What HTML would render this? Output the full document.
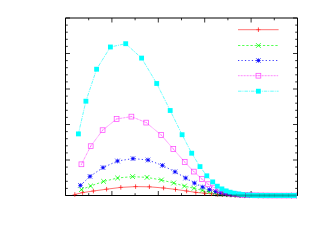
<!DOCTYPE html>
<html><head><meta charset="utf-8"><title>plot</title>
<style>html,body{margin:0;padding:0;background:#fff;font-family:"Liberation Sans",sans-serif;}svg{display:block}</style>
</head><body>
<svg width="325" height="245" viewBox="0 0 325 245">
<rect width="325" height="245" fill="#fff"/>
<g stroke="#000" stroke-width="1" fill="none">
<path d="M65.5 18.0H297.5V195.5H65.5Z"/>
<path d="M65.50 195.5v-4.5M65.50 18.0v4.5M88.70 195.5v-2.3M88.70 18.0v2.3M111.90 195.5v-4.5M111.90 18.0v4.5M135.10 195.5v-2.3M135.10 18.0v2.3M158.30 195.5v-4.5M158.30 18.0v4.5M181.50 195.5v-2.3M181.50 18.0v2.3M204.70 195.5v-4.5M204.70 18.0v4.5M227.90 195.5v-2.3M227.90 18.0v2.3M251.10 195.5v-4.5M251.10 18.0v4.5M274.30 195.5v-2.3M274.30 18.0v2.3M297.50 195.5v-4.5M297.50 18.0v4.5M65.5 195.50h4.5M297.5 195.50h-4.5M65.5 188.40h2.3M297.5 188.40h-2.3M65.5 181.30h2.3M297.5 181.30h-2.3M65.5 174.20h2.3M297.5 174.20h-2.3M65.5 167.10h2.3M297.5 167.10h-2.3M65.5 160.00h4.5M297.5 160.00h-4.5M65.5 152.90h2.3M297.5 152.90h-2.3M65.5 145.80h2.3M297.5 145.80h-2.3M65.5 138.70h2.3M297.5 138.70h-2.3M65.5 131.60h2.3M297.5 131.60h-2.3M65.5 124.50h4.5M297.5 124.50h-4.5M65.5 117.40h2.3M297.5 117.40h-2.3M65.5 110.30h2.3M297.5 110.30h-2.3M65.5 103.20h2.3M297.5 103.20h-2.3M65.5 96.10h2.3M297.5 96.10h-2.3M65.5 89.00h4.5M297.5 89.00h-4.5M65.5 81.90h2.3M297.5 81.90h-2.3M65.5 74.80h2.3M297.5 74.80h-2.3M65.5 67.70h2.3M297.5 67.70h-2.3M65.5 60.60h2.3M297.5 60.60h-2.3M65.5 53.50h4.5M297.5 53.50h-4.5M65.5 46.40h2.3M297.5 46.40h-2.3M65.5 39.30h2.3M297.5 39.30h-2.3M65.5 32.20h2.3M297.5 32.20h-2.3M65.5 25.10h2.3M297.5 25.10h-2.3M65.5 18.00h4.5M297.5 18.00h-4.5" stroke-width="0.8"/>
</g>
<path d="M74.80 194.50L82.60 192.60L93.40 191.00L106.60 189.20L120.80 187.40L135.60 186.60L149.40 186.80L163.60 188.00L175.50 189.40L186.60 191.00L195.80 192.40L204.70 193.20L211.50 193.80L217.50 194.30L222.50 194.60L227.00 194.90L231.00 195.10L235.85 195.26L240.71 195.37L245.56 195.43L250.42 195.47L255.27 195.50L260.12 195.52L264.98 195.53L269.83 195.54L274.68 195.54L279.54 195.54L284.39 195.55L289.25 195.55L294.10 195.55" stroke="#ff0000" stroke-width="0.9" stroke-opacity="0.62" fill="none"/>
<path d="M238 29.7H278.6" stroke="#ff0000" stroke-width="0.9" stroke-opacity="0.62" fill="none"/>
<path d="M256.20 29.70H260.60" stroke="#ff0000" stroke-width="0.6" stroke-opacity="0.7" fill="none"/><path d="M258.40 27.45V31.95" stroke="#ff0000" stroke-width="0.8" stroke-opacity="0.9" fill="none"/>
<path d="M72.60 194.50H77.00" stroke="#ff0000" stroke-width="0.6" stroke-opacity="0.7" fill="none"/><path d="M74.80 192.25V196.75" stroke="#ff0000" stroke-width="0.8" stroke-opacity="0.9" fill="none"/>
<path d="M80.40 192.60H84.80" stroke="#ff0000" stroke-width="0.6" stroke-opacity="0.7" fill="none"/><path d="M82.60 190.35V194.85" stroke="#ff0000" stroke-width="0.8" stroke-opacity="0.9" fill="none"/>
<path d="M91.20 191.00H95.60" stroke="#ff0000" stroke-width="0.6" stroke-opacity="0.7" fill="none"/><path d="M93.40 188.75V193.25" stroke="#ff0000" stroke-width="0.8" stroke-opacity="0.9" fill="none"/>
<path d="M104.40 189.20H108.80" stroke="#ff0000" stroke-width="0.6" stroke-opacity="0.7" fill="none"/><path d="M106.60 186.95V191.45" stroke="#ff0000" stroke-width="0.8" stroke-opacity="0.9" fill="none"/>
<path d="M118.60 187.40H123.00" stroke="#ff0000" stroke-width="0.6" stroke-opacity="0.7" fill="none"/><path d="M120.80 185.15V189.65" stroke="#ff0000" stroke-width="0.8" stroke-opacity="0.9" fill="none"/>
<path d="M133.40 186.60H137.80" stroke="#ff0000" stroke-width="0.6" stroke-opacity="0.7" fill="none"/><path d="M135.60 184.35V188.85" stroke="#ff0000" stroke-width="0.8" stroke-opacity="0.9" fill="none"/>
<path d="M147.20 186.80H151.60" stroke="#ff0000" stroke-width="0.6" stroke-opacity="0.7" fill="none"/><path d="M149.40 184.55V189.05" stroke="#ff0000" stroke-width="0.8" stroke-opacity="0.9" fill="none"/>
<path d="M161.40 188.00H165.80" stroke="#ff0000" stroke-width="0.6" stroke-opacity="0.7" fill="none"/><path d="M163.60 185.75V190.25" stroke="#ff0000" stroke-width="0.8" stroke-opacity="0.9" fill="none"/>
<path d="M173.30 189.40H177.70" stroke="#ff0000" stroke-width="0.6" stroke-opacity="0.7" fill="none"/><path d="M175.50 187.15V191.65" stroke="#ff0000" stroke-width="0.8" stroke-opacity="0.9" fill="none"/>
<path d="M184.40 191.00H188.80" stroke="#ff0000" stroke-width="0.6" stroke-opacity="0.7" fill="none"/><path d="M186.60 188.75V193.25" stroke="#ff0000" stroke-width="0.8" stroke-opacity="0.9" fill="none"/>
<path d="M193.60 192.40H198.00" stroke="#ff0000" stroke-width="0.6" stroke-opacity="0.7" fill="none"/><path d="M195.80 190.15V194.65" stroke="#ff0000" stroke-width="0.8" stroke-opacity="0.9" fill="none"/>
<path d="M202.50 193.20H206.90" stroke="#ff0000" stroke-width="0.6" stroke-opacity="0.7" fill="none"/><path d="M204.70 190.95V195.45" stroke="#ff0000" stroke-width="0.8" stroke-opacity="0.9" fill="none"/>
<path d="M209.30 193.80H213.70" stroke="#ff0000" stroke-width="0.6" stroke-opacity="0.7" fill="none"/><path d="M211.50 191.55V196.05" stroke="#ff0000" stroke-width="0.8" stroke-opacity="0.9" fill="none"/>
<path d="M215.30 194.30H219.70" stroke="#ff0000" stroke-width="0.6" stroke-opacity="0.7" fill="none"/><path d="M217.50 192.05V196.55" stroke="#ff0000" stroke-width="0.8" stroke-opacity="0.9" fill="none"/>
<path d="M220.30 194.60H224.70" stroke="#ff0000" stroke-width="0.6" stroke-opacity="0.7" fill="none"/><path d="M222.50 192.35V196.85" stroke="#ff0000" stroke-width="0.8" stroke-opacity="0.9" fill="none"/>
<path d="M224.80 194.90H229.20" stroke="#ff0000" stroke-width="0.6" stroke-opacity="0.7" fill="none"/><path d="M227.00 192.65V197.15" stroke="#ff0000" stroke-width="0.8" stroke-opacity="0.9" fill="none"/>
<path d="M228.80 195.10H233.20" stroke="#ff0000" stroke-width="0.6" stroke-opacity="0.7" fill="none"/><path d="M231.00 192.85V197.35" stroke="#ff0000" stroke-width="0.8" stroke-opacity="0.9" fill="none"/>
<path d="M233.65 195.26H238.05" stroke="#ff0000" stroke-width="0.6" stroke-opacity="0.7" fill="none"/><path d="M235.85 193.01V197.51" stroke="#ff0000" stroke-width="0.8" stroke-opacity="0.9" fill="none"/>
<path d="M238.51 195.37H242.91" stroke="#ff0000" stroke-width="0.6" stroke-opacity="0.7" fill="none"/><path d="M240.71 193.12V197.62" stroke="#ff0000" stroke-width="0.8" stroke-opacity="0.9" fill="none"/>
<path d="M243.36 195.43H247.76" stroke="#ff0000" stroke-width="0.6" stroke-opacity="0.7" fill="none"/><path d="M245.56 193.18V197.68" stroke="#ff0000" stroke-width="0.8" stroke-opacity="0.9" fill="none"/>
<path d="M248.22 195.47H252.62" stroke="#ff0000" stroke-width="0.6" stroke-opacity="0.7" fill="none"/><path d="M250.42 193.22V197.72" stroke="#ff0000" stroke-width="0.8" stroke-opacity="0.9" fill="none"/>
<path d="M253.07 195.50H257.47" stroke="#ff0000" stroke-width="0.6" stroke-opacity="0.7" fill="none"/><path d="M255.27 193.25V197.75" stroke="#ff0000" stroke-width="0.8" stroke-opacity="0.9" fill="none"/>
<path d="M257.92 195.52H262.32" stroke="#ff0000" stroke-width="0.6" stroke-opacity="0.7" fill="none"/><path d="M260.12 193.27V197.77" stroke="#ff0000" stroke-width="0.8" stroke-opacity="0.9" fill="none"/>
<path d="M262.78 195.53H267.18" stroke="#ff0000" stroke-width="0.6" stroke-opacity="0.7" fill="none"/><path d="M264.98 193.28V197.78" stroke="#ff0000" stroke-width="0.8" stroke-opacity="0.9" fill="none"/>
<path d="M267.63 195.54H272.03" stroke="#ff0000" stroke-width="0.6" stroke-opacity="0.7" fill="none"/><path d="M269.83 193.29V197.79" stroke="#ff0000" stroke-width="0.8" stroke-opacity="0.9" fill="none"/>
<path d="M272.48 195.54H276.88" stroke="#ff0000" stroke-width="0.6" stroke-opacity="0.7" fill="none"/><path d="M274.68 193.29V197.79" stroke="#ff0000" stroke-width="0.8" stroke-opacity="0.9" fill="none"/>
<path d="M277.34 195.54H281.74" stroke="#ff0000" stroke-width="0.6" stroke-opacity="0.7" fill="none"/><path d="M279.54 193.29V197.79" stroke="#ff0000" stroke-width="0.8" stroke-opacity="0.9" fill="none"/>
<path d="M282.19 195.55H286.59" stroke="#ff0000" stroke-width="0.6" stroke-opacity="0.7" fill="none"/><path d="M284.39 193.30V197.80" stroke="#ff0000" stroke-width="0.8" stroke-opacity="0.9" fill="none"/>
<path d="M287.05 195.55H291.45" stroke="#ff0000" stroke-width="0.6" stroke-opacity="0.7" fill="none"/><path d="M289.25 193.30V197.80" stroke="#ff0000" stroke-width="0.8" stroke-opacity="0.9" fill="none"/>
<path d="M291.90 195.55H296.30" stroke="#ff0000" stroke-width="0.6" stroke-opacity="0.7" fill="none"/><path d="M294.10 193.30V197.80" stroke="#ff0000" stroke-width="0.8" stroke-opacity="0.9" fill="none"/>
<path d="M81.40 189.60L90.60 186.00L103.60 181.40L117.60 178.00L132.60 176.60L147.00 177.40L161.40 180.00L173.70 183.00L184.50 186.10L194.00 188.30L202.20 190.40L209.00 191.80L215.00 192.80L220.00 193.60L224.50 194.10L228.50 194.50L232.50 194.80L237.24 195.05L241.98 195.21L246.72 195.32L251.45 195.40L256.19 195.45L260.93 195.48L265.67 195.50L270.41 195.52L275.15 195.53L279.88 195.54L284.62 195.54L289.36 195.54L294.10 195.55" stroke="#00ff00" stroke-width="0.85" stroke-opacity="0.8" fill="none" stroke-dasharray="2.3 1.85"/>
<path d="M238 45.5H278.6" stroke="#00ff00" stroke-width="0.85" stroke-opacity="0.8" fill="none" stroke-dasharray="2.3 1.85"/>
<path d="M256.00 43.10L260.80 47.90M256.00 47.90L260.80 43.10" stroke="#00ff00" stroke-width="0.75" fill="none"/><rect x="257.70" y="44.80" width="1.4" height="1.4" fill="#00ff00" opacity="0.6"/>
<path d="M79.00 187.20L83.80 192.00M79.00 192.00L83.80 187.20" stroke="#00ff00" stroke-width="0.75" fill="none"/><rect x="80.70" y="188.90" width="1.4" height="1.4" fill="#00ff00" opacity="0.6"/>
<path d="M88.20 183.60L93.00 188.40M88.20 188.40L93.00 183.60" stroke="#00ff00" stroke-width="0.75" fill="none"/><rect x="89.90" y="185.30" width="1.4" height="1.4" fill="#00ff00" opacity="0.6"/>
<path d="M101.20 179.00L106.00 183.80M101.20 183.80L106.00 179.00" stroke="#00ff00" stroke-width="0.75" fill="none"/><rect x="102.90" y="180.70" width="1.4" height="1.4" fill="#00ff00" opacity="0.6"/>
<path d="M115.20 175.60L120.00 180.40M115.20 180.40L120.00 175.60" stroke="#00ff00" stroke-width="0.75" fill="none"/><rect x="116.90" y="177.30" width="1.4" height="1.4" fill="#00ff00" opacity="0.6"/>
<path d="M130.20 174.20L135.00 179.00M130.20 179.00L135.00 174.20" stroke="#00ff00" stroke-width="0.75" fill="none"/><rect x="131.90" y="175.90" width="1.4" height="1.4" fill="#00ff00" opacity="0.6"/>
<path d="M144.60 175.00L149.40 179.80M144.60 179.80L149.40 175.00" stroke="#00ff00" stroke-width="0.75" fill="none"/><rect x="146.30" y="176.70" width="1.4" height="1.4" fill="#00ff00" opacity="0.6"/>
<path d="M159.00 177.60L163.80 182.40M159.00 182.40L163.80 177.60" stroke="#00ff00" stroke-width="0.75" fill="none"/><rect x="160.70" y="179.30" width="1.4" height="1.4" fill="#00ff00" opacity="0.6"/>
<path d="M171.30 180.60L176.10 185.40M171.30 185.40L176.10 180.60" stroke="#00ff00" stroke-width="0.75" fill="none"/><rect x="173.00" y="182.30" width="1.4" height="1.4" fill="#00ff00" opacity="0.6"/>
<path d="M182.10 183.70L186.90 188.50M182.10 188.50L186.90 183.70" stroke="#00ff00" stroke-width="0.75" fill="none"/><rect x="183.80" y="185.40" width="1.4" height="1.4" fill="#00ff00" opacity="0.6"/>
<path d="M191.60 185.90L196.40 190.70M191.60 190.70L196.40 185.90" stroke="#00ff00" stroke-width="0.75" fill="none"/><rect x="193.30" y="187.60" width="1.4" height="1.4" fill="#00ff00" opacity="0.6"/>
<path d="M199.80 188.00L204.60 192.80M199.80 192.80L204.60 188.00" stroke="#00ff00" stroke-width="0.75" fill="none"/><rect x="201.50" y="189.70" width="1.4" height="1.4" fill="#00ff00" opacity="0.6"/>
<path d="M206.60 189.40L211.40 194.20M206.60 194.20L211.40 189.40" stroke="#00ff00" stroke-width="0.75" fill="none"/><rect x="208.30" y="191.10" width="1.4" height="1.4" fill="#00ff00" opacity="0.6"/>
<path d="M212.60 190.40L217.40 195.20M212.60 195.20L217.40 190.40" stroke="#00ff00" stroke-width="0.75" fill="none"/><rect x="214.30" y="192.10" width="1.4" height="1.4" fill="#00ff00" opacity="0.6"/>
<path d="M217.60 191.20L222.40 196.00M217.60 196.00L222.40 191.20" stroke="#00ff00" stroke-width="0.75" fill="none"/><rect x="219.30" y="192.90" width="1.4" height="1.4" fill="#00ff00" opacity="0.6"/>
<path d="M222.10 191.70L226.90 196.50M222.10 196.50L226.90 191.70" stroke="#00ff00" stroke-width="0.75" fill="none"/><rect x="223.80" y="193.40" width="1.4" height="1.4" fill="#00ff00" opacity="0.6"/>
<path d="M226.10 192.10L230.90 196.90M226.10 196.90L230.90 192.10" stroke="#00ff00" stroke-width="0.75" fill="none"/><rect x="227.80" y="193.80" width="1.4" height="1.4" fill="#00ff00" opacity="0.6"/>
<path d="M230.10 192.40L234.90 197.20M230.10 197.20L234.90 192.40" stroke="#00ff00" stroke-width="0.75" fill="none"/><rect x="231.80" y="194.10" width="1.4" height="1.4" fill="#00ff00" opacity="0.6"/>
<path d="M234.84 192.65L239.64 197.45M234.84 197.45L239.64 192.65" stroke="#00ff00" stroke-width="0.75" fill="none"/><rect x="236.54" y="194.35" width="1.4" height="1.4" fill="#00ff00" opacity="0.6"/>
<path d="M239.58 192.81L244.38 197.61M239.58 197.61L244.38 192.81" stroke="#00ff00" stroke-width="0.75" fill="none"/><rect x="241.28" y="194.51" width="1.4" height="1.4" fill="#00ff00" opacity="0.6"/>
<path d="M244.32 192.92L249.12 197.72M244.32 197.72L249.12 192.92" stroke="#00ff00" stroke-width="0.75" fill="none"/><rect x="246.02" y="194.62" width="1.4" height="1.4" fill="#00ff00" opacity="0.6"/>
<path d="M249.05 193.00L253.85 197.80M249.05 197.80L253.85 193.00" stroke="#00ff00" stroke-width="0.75" fill="none"/><rect x="250.75" y="194.70" width="1.4" height="1.4" fill="#00ff00" opacity="0.6"/>
<path d="M253.79 193.05L258.59 197.85M253.79 197.85L258.59 193.05" stroke="#00ff00" stroke-width="0.75" fill="none"/><rect x="255.49" y="194.75" width="1.4" height="1.4" fill="#00ff00" opacity="0.6"/>
<path d="M258.53 193.08L263.33 197.88M258.53 197.88L263.33 193.08" stroke="#00ff00" stroke-width="0.75" fill="none"/><rect x="260.23" y="194.78" width="1.4" height="1.4" fill="#00ff00" opacity="0.6"/>
<path d="M263.27 193.10L268.07 197.90M263.27 197.90L268.07 193.10" stroke="#00ff00" stroke-width="0.75" fill="none"/><rect x="264.97" y="194.80" width="1.4" height="1.4" fill="#00ff00" opacity="0.6"/>
<path d="M268.01 193.12L272.81 197.92M268.01 197.92L272.81 193.12" stroke="#00ff00" stroke-width="0.75" fill="none"/><rect x="269.71" y="194.82" width="1.4" height="1.4" fill="#00ff00" opacity="0.6"/>
<path d="M272.75 193.13L277.55 197.93M272.75 197.93L277.55 193.13" stroke="#00ff00" stroke-width="0.75" fill="none"/><rect x="274.45" y="194.83" width="1.4" height="1.4" fill="#00ff00" opacity="0.6"/>
<path d="M277.48 193.14L282.28 197.94M277.48 197.94L282.28 193.14" stroke="#00ff00" stroke-width="0.75" fill="none"/><rect x="279.18" y="194.84" width="1.4" height="1.4" fill="#00ff00" opacity="0.6"/>
<path d="M282.22 193.14L287.02 197.94M282.22 197.94L287.02 193.14" stroke="#00ff00" stroke-width="0.75" fill="none"/><rect x="283.92" y="194.84" width="1.4" height="1.4" fill="#00ff00" opacity="0.6"/>
<path d="M286.96 193.14L291.76 197.94M286.96 197.94L291.76 193.14" stroke="#00ff00" stroke-width="0.75" fill="none"/><rect x="288.66" y="194.84" width="1.4" height="1.4" fill="#00ff00" opacity="0.6"/>
<path d="M291.70 193.15L296.50 197.95M291.70 197.95L296.50 193.15" stroke="#00ff00" stroke-width="0.75" fill="none"/><rect x="293.40" y="194.85" width="1.4" height="1.4" fill="#00ff00" opacity="0.6"/>
<path d="M80.40 185.40L90.00 176.40L103.00 167.60L117.50 161.00L133.00 158.60L148.00 160.00L162.40 165.40L175.00 171.80L185.70 178.00L194.50 183.10L202.60 187.10L209.40 189.60L215.60 191.60L220.60 192.80L225.00 193.60L229.00 194.20L233.00 194.60L237.70 194.92L242.40 195.13L247.10 195.27L251.80 195.37L256.50 195.43L261.20 195.47L265.90 195.50L270.60 195.52L275.30 195.53L280.00 195.53L284.70 195.54L289.40 195.54L294.10 195.55" stroke="#0000ff" stroke-width="0.9" stroke-opacity="0.85" fill="none" stroke-dasharray="1.25 2.21"/>
<path d="M238 60.5H278.6" stroke="#0000ff" stroke-width="0.9" stroke-opacity="0.85" fill="none" stroke-dasharray="1.25 2.21"/>
<path d="M256.00 58.10L260.80 62.90M256.00 62.90L260.80 58.10M256.00 60.50H260.80M258.40 58.10V62.90" stroke="#0000ff" stroke-width="0.7" stroke-opacity="0.85" fill="none"/><rect x="257.10" y="59.20" width="2.6" height="2.6" fill="#0000ff" opacity="0.75"/>
<path d="M78.00 183.00L82.80 187.80M78.00 187.80L82.80 183.00M78.00 185.40H82.80M80.40 183.00V187.80" stroke="#0000ff" stroke-width="0.7" stroke-opacity="0.85" fill="none"/><rect x="79.10" y="184.10" width="2.6" height="2.6" fill="#0000ff" opacity="0.75"/>
<path d="M87.60 174.00L92.40 178.80M87.60 178.80L92.40 174.00M87.60 176.40H92.40M90.00 174.00V178.80" stroke="#0000ff" stroke-width="0.7" stroke-opacity="0.85" fill="none"/><rect x="88.70" y="175.10" width="2.6" height="2.6" fill="#0000ff" opacity="0.75"/>
<path d="M100.60 165.20L105.40 170.00M100.60 170.00L105.40 165.20M100.60 167.60H105.40M103.00 165.20V170.00" stroke="#0000ff" stroke-width="0.7" stroke-opacity="0.85" fill="none"/><rect x="101.70" y="166.30" width="2.6" height="2.6" fill="#0000ff" opacity="0.75"/>
<path d="M115.10 158.60L119.90 163.40M115.10 163.40L119.90 158.60M115.10 161.00H119.90M117.50 158.60V163.40" stroke="#0000ff" stroke-width="0.7" stroke-opacity="0.85" fill="none"/><rect x="116.20" y="159.70" width="2.6" height="2.6" fill="#0000ff" opacity="0.75"/>
<path d="M130.60 156.20L135.40 161.00M130.60 161.00L135.40 156.20M130.60 158.60H135.40M133.00 156.20V161.00" stroke="#0000ff" stroke-width="0.7" stroke-opacity="0.85" fill="none"/><rect x="131.70" y="157.30" width="2.6" height="2.6" fill="#0000ff" opacity="0.75"/>
<path d="M145.60 157.60L150.40 162.40M145.60 162.40L150.40 157.60M145.60 160.00H150.40M148.00 157.60V162.40" stroke="#0000ff" stroke-width="0.7" stroke-opacity="0.85" fill="none"/><rect x="146.70" y="158.70" width="2.6" height="2.6" fill="#0000ff" opacity="0.75"/>
<path d="M160.00 163.00L164.80 167.80M160.00 167.80L164.80 163.00M160.00 165.40H164.80M162.40 163.00V167.80" stroke="#0000ff" stroke-width="0.7" stroke-opacity="0.85" fill="none"/><rect x="161.10" y="164.10" width="2.6" height="2.6" fill="#0000ff" opacity="0.75"/>
<path d="M172.60 169.40L177.40 174.20M172.60 174.20L177.40 169.40M172.60 171.80H177.40M175.00 169.40V174.20" stroke="#0000ff" stroke-width="0.7" stroke-opacity="0.85" fill="none"/><rect x="173.70" y="170.50" width="2.6" height="2.6" fill="#0000ff" opacity="0.75"/>
<path d="M183.30 175.60L188.10 180.40M183.30 180.40L188.10 175.60M183.30 178.00H188.10M185.70 175.60V180.40" stroke="#0000ff" stroke-width="0.7" stroke-opacity="0.85" fill="none"/><rect x="184.40" y="176.70" width="2.6" height="2.6" fill="#0000ff" opacity="0.75"/>
<path d="M192.10 180.70L196.90 185.50M192.10 185.50L196.90 180.70M192.10 183.10H196.90M194.50 180.70V185.50" stroke="#0000ff" stroke-width="0.7" stroke-opacity="0.85" fill="none"/><rect x="193.20" y="181.80" width="2.6" height="2.6" fill="#0000ff" opacity="0.75"/>
<path d="M200.20 184.70L205.00 189.50M200.20 189.50L205.00 184.70M200.20 187.10H205.00M202.60 184.70V189.50" stroke="#0000ff" stroke-width="0.7" stroke-opacity="0.85" fill="none"/><rect x="201.30" y="185.80" width="2.6" height="2.6" fill="#0000ff" opacity="0.75"/>
<path d="M207.00 187.20L211.80 192.00M207.00 192.00L211.80 187.20M207.00 189.60H211.80M209.40 187.20V192.00" stroke="#0000ff" stroke-width="0.7" stroke-opacity="0.85" fill="none"/><rect x="208.10" y="188.30" width="2.6" height="2.6" fill="#0000ff" opacity="0.75"/>
<path d="M213.20 189.20L218.00 194.00M213.20 194.00L218.00 189.20M213.20 191.60H218.00M215.60 189.20V194.00" stroke="#0000ff" stroke-width="0.7" stroke-opacity="0.85" fill="none"/><rect x="214.30" y="190.30" width="2.6" height="2.6" fill="#0000ff" opacity="0.75"/>
<path d="M218.20 190.40L223.00 195.20M218.20 195.20L223.00 190.40M218.20 192.80H223.00M220.60 190.40V195.20" stroke="#0000ff" stroke-width="0.7" stroke-opacity="0.85" fill="none"/><rect x="219.30" y="191.50" width="2.6" height="2.6" fill="#0000ff" opacity="0.75"/>
<path d="M222.60 191.20L227.40 196.00M222.60 196.00L227.40 191.20M222.60 193.60H227.40M225.00 191.20V196.00" stroke="#0000ff" stroke-width="0.7" stroke-opacity="0.85" fill="none"/><rect x="223.70" y="192.30" width="2.6" height="2.6" fill="#0000ff" opacity="0.75"/>
<path d="M226.60 191.80L231.40 196.60M226.60 196.60L231.40 191.80M226.60 194.20H231.40M229.00 191.80V196.60" stroke="#0000ff" stroke-width="0.7" stroke-opacity="0.85" fill="none"/><rect x="227.70" y="192.90" width="2.6" height="2.6" fill="#0000ff" opacity="0.75"/>
<path d="M230.60 192.20L235.40 197.00M230.60 197.00L235.40 192.20M230.60 194.60H235.40M233.00 192.20V197.00" stroke="#0000ff" stroke-width="0.7" stroke-opacity="0.85" fill="none"/><rect x="231.70" y="193.30" width="2.6" height="2.6" fill="#0000ff" opacity="0.75"/>
<path d="M235.30 192.52L240.10 197.32M235.30 197.32L240.10 192.52M235.30 194.92H240.10M237.70 192.52V197.32" stroke="#0000ff" stroke-width="0.7" stroke-opacity="0.85" fill="none"/><rect x="236.40" y="193.62" width="2.6" height="2.6" fill="#0000ff" opacity="0.75"/>
<path d="M240.00 192.73L244.80 197.53M240.00 197.53L244.80 192.73M240.00 195.13H244.80M242.40 192.73V197.53" stroke="#0000ff" stroke-width="0.7" stroke-opacity="0.85" fill="none"/><rect x="241.10" y="193.83" width="2.6" height="2.6" fill="#0000ff" opacity="0.75"/>
<path d="M244.70 192.87L249.50 197.67M244.70 197.67L249.50 192.87M244.70 195.27H249.50M247.10 192.87V197.67" stroke="#0000ff" stroke-width="0.7" stroke-opacity="0.85" fill="none"/><rect x="245.80" y="193.97" width="2.6" height="2.6" fill="#0000ff" opacity="0.75"/>
<path d="M249.40 192.97L254.20 197.77M249.40 197.77L254.20 192.97M249.40 195.37H254.20M251.80 192.97V197.77" stroke="#0000ff" stroke-width="0.7" stroke-opacity="0.85" fill="none"/><rect x="250.50" y="194.07" width="2.6" height="2.6" fill="#0000ff" opacity="0.75"/>
<path d="M254.10 193.03L258.90 197.83M254.10 197.83L258.90 193.03M254.10 195.43H258.90M256.50 193.03V197.83" stroke="#0000ff" stroke-width="0.7" stroke-opacity="0.85" fill="none"/><rect x="255.20" y="194.13" width="2.6" height="2.6" fill="#0000ff" opacity="0.75"/>
<path d="M258.80 193.07L263.60 197.87M258.80 197.87L263.60 193.07M258.80 195.47H263.60M261.20 193.07V197.87" stroke="#0000ff" stroke-width="0.7" stroke-opacity="0.85" fill="none"/><rect x="259.90" y="194.17" width="2.6" height="2.6" fill="#0000ff" opacity="0.75"/>
<path d="M263.50 193.10L268.30 197.90M263.50 197.90L268.30 193.10M263.50 195.50H268.30M265.90 193.10V197.90" stroke="#0000ff" stroke-width="0.7" stroke-opacity="0.85" fill="none"/><rect x="264.60" y="194.20" width="2.6" height="2.6" fill="#0000ff" opacity="0.75"/>
<path d="M268.20 193.12L273.00 197.92M268.20 197.92L273.00 193.12M268.20 195.52H273.00M270.60 193.12V197.92" stroke="#0000ff" stroke-width="0.7" stroke-opacity="0.85" fill="none"/><rect x="269.30" y="194.22" width="2.6" height="2.6" fill="#0000ff" opacity="0.75"/>
<path d="M272.90 193.13L277.70 197.93M272.90 197.93L277.70 193.13M272.90 195.53H277.70M275.30 193.13V197.93" stroke="#0000ff" stroke-width="0.7" stroke-opacity="0.85" fill="none"/><rect x="274.00" y="194.23" width="2.6" height="2.6" fill="#0000ff" opacity="0.75"/>
<path d="M277.60 193.13L282.40 197.93M277.60 197.93L282.40 193.13M277.60 195.53H282.40M280.00 193.13V197.93" stroke="#0000ff" stroke-width="0.7" stroke-opacity="0.85" fill="none"/><rect x="278.70" y="194.23" width="2.6" height="2.6" fill="#0000ff" opacity="0.75"/>
<path d="M282.30 193.14L287.10 197.94M282.30 197.94L287.10 193.14M282.30 195.54H287.10M284.70 193.14V197.94" stroke="#0000ff" stroke-width="0.7" stroke-opacity="0.85" fill="none"/><rect x="283.40" y="194.24" width="2.6" height="2.6" fill="#0000ff" opacity="0.75"/>
<path d="M287.00 193.14L291.80 197.94M287.00 197.94L291.80 193.14M287.00 195.54H291.80M289.40 193.14V197.94" stroke="#0000ff" stroke-width="0.7" stroke-opacity="0.85" fill="none"/><rect x="288.10" y="194.24" width="2.6" height="2.6" fill="#0000ff" opacity="0.75"/>
<path d="M291.70 193.15L296.50 197.95M291.70 197.95L296.50 193.15M291.70 195.55H296.50M294.10 193.15V197.95" stroke="#0000ff" stroke-width="0.7" stroke-opacity="0.85" fill="none"/><rect x="292.80" y="194.25" width="2.6" height="2.6" fill="#0000ff" opacity="0.75"/>
<path d="M81.40 164.30L90.70 146.20L102.60 130.20L116.60 119.00L131.40 116.60L146.20 122.60L161.20 135.00L173.30 149.00L184.70 162.00L193.80 171.60L201.90 179.00L208.10 184.20L214.20 187.60L219.30 190.00L223.70 191.60L227.70 192.80L231.50 193.60L235.30 194.20L240.20 194.71L245.10 195.03L250.00 195.22L254.90 195.35L259.80 195.42L264.70 195.47L269.60 195.50L274.50 195.52L279.40 195.53L284.30 195.54L289.20 195.54L294.10 195.55" stroke="#ff00ff" stroke-width="0.8" stroke-opacity="0.75" fill="none" stroke-dasharray="0.8 0.7"/>
<path d="M238 75.7H278.6" stroke="#ff00ff" stroke-width="0.8" stroke-opacity="0.75" fill="none" stroke-dasharray="0.8 0.7"/>
<rect x="256.00" y="73.30" width="4.8" height="4.8" stroke="#ff00ff" stroke-width="0.7" stroke-opacity="0.75" fill="none"/><rect x="257.95" y="75.25" width="0.9" height="0.9" fill="#ff00ff" opacity="0.55"/>
<rect x="79.00" y="161.90" width="4.8" height="4.8" stroke="#ff00ff" stroke-width="0.7" stroke-opacity="0.75" fill="none"/><rect x="80.95" y="163.85" width="0.9" height="0.9" fill="#ff00ff" opacity="0.55"/>
<rect x="88.30" y="143.80" width="4.8" height="4.8" stroke="#ff00ff" stroke-width="0.7" stroke-opacity="0.75" fill="none"/><rect x="90.25" y="145.75" width="0.9" height="0.9" fill="#ff00ff" opacity="0.55"/>
<rect x="100.20" y="127.80" width="4.8" height="4.8" stroke="#ff00ff" stroke-width="0.7" stroke-opacity="0.75" fill="none"/><rect x="102.15" y="129.75" width="0.9" height="0.9" fill="#ff00ff" opacity="0.55"/>
<rect x="114.20" y="116.60" width="4.8" height="4.8" stroke="#ff00ff" stroke-width="0.7" stroke-opacity="0.75" fill="none"/><rect x="116.15" y="118.55" width="0.9" height="0.9" fill="#ff00ff" opacity="0.55"/>
<rect x="129.00" y="114.20" width="4.8" height="4.8" stroke="#ff00ff" stroke-width="0.7" stroke-opacity="0.75" fill="none"/><rect x="130.95" y="116.15" width="0.9" height="0.9" fill="#ff00ff" opacity="0.55"/>
<rect x="143.80" y="120.20" width="4.8" height="4.8" stroke="#ff00ff" stroke-width="0.7" stroke-opacity="0.75" fill="none"/><rect x="145.75" y="122.15" width="0.9" height="0.9" fill="#ff00ff" opacity="0.55"/>
<rect x="158.80" y="132.60" width="4.8" height="4.8" stroke="#ff00ff" stroke-width="0.7" stroke-opacity="0.75" fill="none"/><rect x="160.75" y="134.55" width="0.9" height="0.9" fill="#ff00ff" opacity="0.55"/>
<rect x="170.90" y="146.60" width="4.8" height="4.8" stroke="#ff00ff" stroke-width="0.7" stroke-opacity="0.75" fill="none"/><rect x="172.85" y="148.55" width="0.9" height="0.9" fill="#ff00ff" opacity="0.55"/>
<rect x="182.30" y="159.60" width="4.8" height="4.8" stroke="#ff00ff" stroke-width="0.7" stroke-opacity="0.75" fill="none"/><rect x="184.25" y="161.55" width="0.9" height="0.9" fill="#ff00ff" opacity="0.55"/>
<rect x="191.40" y="169.20" width="4.8" height="4.8" stroke="#ff00ff" stroke-width="0.7" stroke-opacity="0.75" fill="none"/><rect x="193.35" y="171.15" width="0.9" height="0.9" fill="#ff00ff" opacity="0.55"/>
<rect x="199.50" y="176.60" width="4.8" height="4.8" stroke="#ff00ff" stroke-width="0.7" stroke-opacity="0.75" fill="none"/><rect x="201.45" y="178.55" width="0.9" height="0.9" fill="#ff00ff" opacity="0.55"/>
<rect x="205.70" y="181.80" width="4.8" height="4.8" stroke="#ff00ff" stroke-width="0.7" stroke-opacity="0.75" fill="none"/><rect x="207.65" y="183.75" width="0.9" height="0.9" fill="#ff00ff" opacity="0.55"/>
<rect x="211.80" y="185.20" width="4.8" height="4.8" stroke="#ff00ff" stroke-width="0.7" stroke-opacity="0.75" fill="none"/><rect x="213.75" y="187.15" width="0.9" height="0.9" fill="#ff00ff" opacity="0.55"/>
<rect x="216.90" y="187.60" width="4.8" height="4.8" stroke="#ff00ff" stroke-width="0.7" stroke-opacity="0.75" fill="none"/><rect x="218.85" y="189.55" width="0.9" height="0.9" fill="#ff00ff" opacity="0.55"/>
<rect x="221.30" y="189.20" width="4.8" height="4.8" stroke="#ff00ff" stroke-width="0.7" stroke-opacity="0.75" fill="none"/><rect x="223.25" y="191.15" width="0.9" height="0.9" fill="#ff00ff" opacity="0.55"/>
<rect x="225.30" y="190.40" width="4.8" height="4.8" stroke="#ff00ff" stroke-width="0.7" stroke-opacity="0.75" fill="none"/><rect x="227.25" y="192.35" width="0.9" height="0.9" fill="#ff00ff" opacity="0.55"/>
<rect x="229.10" y="191.20" width="4.8" height="4.8" stroke="#ff00ff" stroke-width="0.7" stroke-opacity="0.75" fill="none"/><rect x="231.05" y="193.15" width="0.9" height="0.9" fill="#ff00ff" opacity="0.55"/>
<rect x="232.90" y="191.80" width="4.8" height="4.8" stroke="#ff00ff" stroke-width="0.7" stroke-opacity="0.75" fill="none"/><rect x="234.85" y="193.75" width="0.9" height="0.9" fill="#ff00ff" opacity="0.55"/>
<rect x="237.80" y="192.31" width="4.8" height="4.8" stroke="#ff00ff" stroke-width="0.7" stroke-opacity="0.75" fill="none"/><rect x="239.75" y="194.26" width="0.9" height="0.9" fill="#ff00ff" opacity="0.55"/>
<rect x="242.70" y="192.63" width="4.8" height="4.8" stroke="#ff00ff" stroke-width="0.7" stroke-opacity="0.75" fill="none"/><rect x="244.65" y="194.58" width="0.9" height="0.9" fill="#ff00ff" opacity="0.55"/>
<rect x="247.60" y="192.82" width="4.8" height="4.8" stroke="#ff00ff" stroke-width="0.7" stroke-opacity="0.75" fill="none"/><rect x="249.55" y="194.77" width="0.9" height="0.9" fill="#ff00ff" opacity="0.55"/>
<rect x="252.50" y="192.95" width="4.8" height="4.8" stroke="#ff00ff" stroke-width="0.7" stroke-opacity="0.75" fill="none"/><rect x="254.45" y="194.90" width="0.9" height="0.9" fill="#ff00ff" opacity="0.55"/>
<rect x="257.40" y="193.02" width="4.8" height="4.8" stroke="#ff00ff" stroke-width="0.7" stroke-opacity="0.75" fill="none"/><rect x="259.35" y="194.97" width="0.9" height="0.9" fill="#ff00ff" opacity="0.55"/>
<rect x="262.30" y="193.07" width="4.8" height="4.8" stroke="#ff00ff" stroke-width="0.7" stroke-opacity="0.75" fill="none"/><rect x="264.25" y="195.02" width="0.9" height="0.9" fill="#ff00ff" opacity="0.55"/>
<rect x="267.20" y="193.10" width="4.8" height="4.8" stroke="#ff00ff" stroke-width="0.7" stroke-opacity="0.75" fill="none"/><rect x="269.15" y="195.05" width="0.9" height="0.9" fill="#ff00ff" opacity="0.55"/>
<rect x="272.10" y="193.12" width="4.8" height="4.8" stroke="#ff00ff" stroke-width="0.7" stroke-opacity="0.75" fill="none"/><rect x="274.05" y="195.07" width="0.9" height="0.9" fill="#ff00ff" opacity="0.55"/>
<rect x="277.00" y="193.13" width="4.8" height="4.8" stroke="#ff00ff" stroke-width="0.7" stroke-opacity="0.75" fill="none"/><rect x="278.95" y="195.08" width="0.9" height="0.9" fill="#ff00ff" opacity="0.55"/>
<rect x="281.90" y="193.14" width="4.8" height="4.8" stroke="#ff00ff" stroke-width="0.7" stroke-opacity="0.75" fill="none"/><rect x="283.85" y="195.09" width="0.9" height="0.9" fill="#ff00ff" opacity="0.55"/>
<rect x="286.80" y="193.14" width="4.8" height="4.8" stroke="#ff00ff" stroke-width="0.7" stroke-opacity="0.75" fill="none"/><rect x="288.75" y="195.09" width="0.9" height="0.9" fill="#ff00ff" opacity="0.55"/>
<rect x="291.70" y="193.15" width="4.8" height="4.8" stroke="#ff00ff" stroke-width="0.7" stroke-opacity="0.75" fill="none"/><rect x="293.65" y="195.10" width="0.9" height="0.9" fill="#ff00ff" opacity="0.55"/>
<path d="M78.40 133.90L85.90 101.20L96.60 69.20L110.40 47.00L125.70 43.70L141.60 58.10L156.70 83.50L170.20 110.50L182.10 134.70L191.70 153.20L200.00 166.60L206.80 175.80L212.70 181.90L217.30 186.20L221.90 188.90L226.20 190.90L230.10 192.20L234.20 193.20L238.80 193.90L242.70 194.50L248.00 195.00L253.12 195.26L258.24 195.39L263.37 195.47L268.49 195.50L273.61 195.53L278.73 195.54L283.86 195.54L288.98 195.55L294.10 195.55" stroke="#00ffff" stroke-width="0.8" stroke-opacity="0.75" fill="none" stroke-dasharray="3.5 0.95 1.0 1.0"/>
<path d="M238 91.2H278.6" stroke="#00ffff" stroke-width="0.8" stroke-opacity="0.75" fill="none" stroke-dasharray="3.5 0.95 1.0 1.0"/>
<rect x="255.98" y="88.78" width="4.84" height="4.84" fill="#00ffff"/>
<rect x="75.98" y="131.48" width="4.84" height="4.84" fill="#00ffff"/>
<rect x="83.48" y="98.78" width="4.84" height="4.84" fill="#00ffff"/>
<rect x="94.18" y="66.78" width="4.84" height="4.84" fill="#00ffff"/>
<rect x="107.98" y="44.58" width="4.84" height="4.84" fill="#00ffff"/>
<rect x="123.28" y="41.28" width="4.84" height="4.84" fill="#00ffff"/>
<rect x="139.18" y="55.68" width="4.84" height="4.84" fill="#00ffff"/>
<rect x="154.28" y="81.08" width="4.84" height="4.84" fill="#00ffff"/>
<rect x="167.78" y="108.08" width="4.84" height="4.84" fill="#00ffff"/>
<rect x="179.68" y="132.28" width="4.84" height="4.84" fill="#00ffff"/>
<rect x="189.28" y="150.78" width="4.84" height="4.84" fill="#00ffff"/>
<rect x="197.58" y="164.18" width="4.84" height="4.84" fill="#00ffff"/>
<rect x="204.38" y="173.38" width="4.84" height="4.84" fill="#00ffff"/>
<rect x="210.28" y="179.48" width="4.84" height="4.84" fill="#00ffff"/>
<rect x="214.88" y="183.78" width="4.84" height="4.84" fill="#00ffff"/>
<rect x="219.48" y="186.48" width="4.84" height="4.84" fill="#00ffff"/>
<rect x="223.78" y="188.48" width="4.84" height="4.84" fill="#00ffff"/>
<rect x="227.68" y="189.78" width="4.84" height="4.84" fill="#00ffff"/>
<rect x="231.78" y="190.78" width="4.84" height="4.84" fill="#00ffff"/>
<rect x="236.38" y="191.48" width="4.84" height="4.84" fill="#00ffff"/>
<rect x="240.28" y="192.08" width="4.84" height="4.84" fill="#00ffff"/>
<rect x="245.58" y="192.58" width="4.84" height="4.84" fill="#00ffff"/>
<rect x="250.70" y="192.84" width="4.84" height="4.84" fill="#00ffff"/>
<rect x="255.82" y="192.97" width="4.84" height="4.84" fill="#00ffff"/>
<rect x="260.95" y="193.05" width="4.84" height="4.84" fill="#00ffff"/>
<rect x="266.07" y="193.08" width="4.84" height="4.84" fill="#00ffff"/>
<rect x="271.19" y="193.11" width="4.84" height="4.84" fill="#00ffff"/>
<rect x="276.31" y="193.12" width="4.84" height="4.84" fill="#00ffff"/>
<rect x="281.44" y="193.12" width="4.84" height="4.84" fill="#00ffff"/>
<rect x="286.56" y="193.13" width="4.84" height="4.84" fill="#00ffff"/>
<rect x="291.68" y="193.13" width="4.84" height="4.84" fill="#00ffff"/>
<rect x="250" y="193.13" width="46.5" height="4.84" fill="#00ffff"/>
<rect x="215" y="194.4" width="81.5" height="2.2" fill="#000" opacity="0.3"/>
<rect x="250.79999999999998" y="193.4" width="0.8" height="3.8" fill="#004040" opacity="0.16"/>
<rect x="259.20000000000005" y="193.4" width="0.8" height="3.8" fill="#004040" opacity="0.16"/>
<rect x="263.90000000000003" y="193.4" width="0.8" height="3.8" fill="#004040" opacity="0.16"/>
<rect x="268.8" y="193.4" width="0.8" height="3.8" fill="#004040" opacity="0.16"/>
<rect x="274.1" y="193.4" width="0.8" height="3.8" fill="#004040" opacity="0.16"/>
<rect x="282.40000000000003" y="193.4" width="0.8" height="3.8" fill="#004040" opacity="0.16"/>
<rect x="288.1" y="193.4" width="0.8" height="3.8" fill="#004040" opacity="0.16"/>
</svg>
</body></html>
